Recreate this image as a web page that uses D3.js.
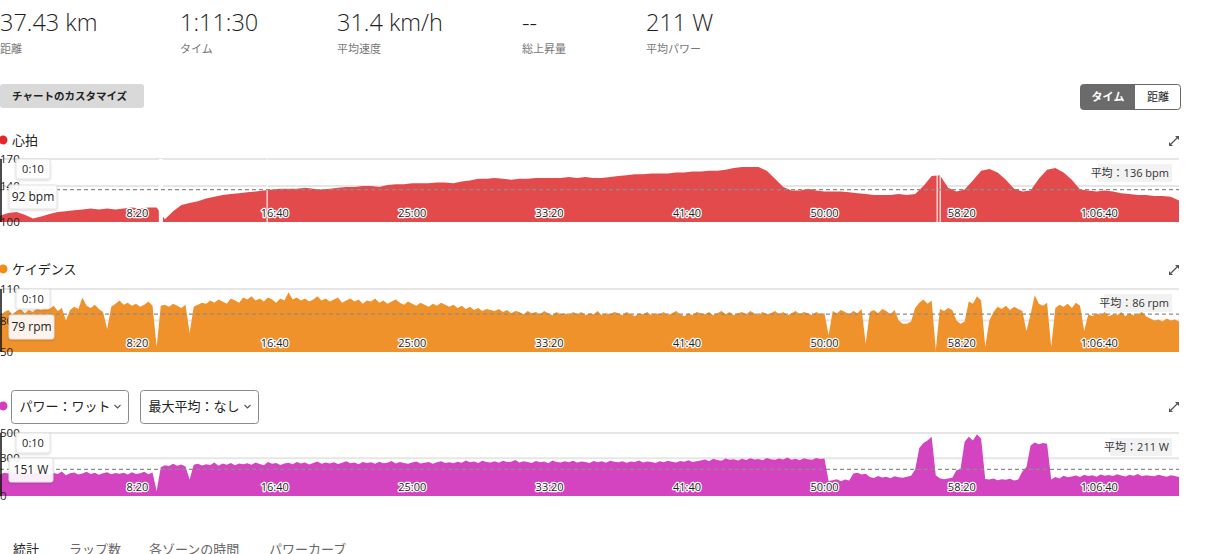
<!DOCTYPE html>
<html lang="ja">
<head>
<meta charset="utf-8">
<title>アクティビティ チャート</title>
<script src="https://d3js.org/d3.v7.min.js"></script>
<style>
  body { margin: 0; background: #fff; }
  svg { display: block; font-family: "Open Sans", "Noto Sans CJK JP", sans-serif; }
  .statval { font-size: 23.5px; font-weight: 300; fill: #1e1e1e; }
  .statlab { font-size: 11px; fill: #777; }
  .title { font-size: 13px; fill: #222; }
  .ylab { font-size: 11.5px; fill: #222; }
  .xlab { font-size: 11px; fill: #222; stroke: #fff; stroke-width: 2.5px; paint-order: stroke; stroke-linejoin: round; }
  .legend { font-size: 11px; fill: #333; }
  .tip { font-size: 11px; fill: #222; }
  .tipval { font-size: 12px; fill: #222; }
  .tab { font-size: 13px; fill: #666; }
</style>
</head>
<body>
<svg width="1207" height="554"></svg>
<script>
// summary stats
const statValues = ["37.43 km", "1:11:30", "31.4 km/h", "--", "211 W"];
const statLabels = ["距離", "タイム", "平均速度", "総上昇量", "平均パワー"];
const statX = [0, 180, 337, 522, 646];

const totalSec = 4290;                 // 1:11:30
const xTicks = [500, 1000, 1500, 2000, 2500, 3000, 3500, 4000];

// heart rate, one value every 30 s
const hrStep = 30;
const hrBpm = [
  107,110,111,108,104,106,109,111,112,113,
  114,115,114,115,114,115,116,115,116,116,
  103,112,119,121,123,126,128,130,131,132,
  133,134,135,136,137,137,137,138,137,136,
  137,138,139,139,140,140,139,141,142,142,
  143,143,143,144,144,143,145,146,148,148,
  149,148,147,148,148,149,149,149,149,150,
  149,150,149,149,150,151,152,153,153,154,
  154,154,155,155,156,156,157,157,158,160,
  161,161,161,157,148,139,135,135,137,135,
  134,134,134,133,132,131,130,130,130,131,
  130,131,140,151,152,138,134,136,146,157,
  159,155,147,137,134,135,148,158,160,155,
  147,136,135,134,135,134,132,131,130,130,
  129,129,128,124
];
// sensor dropouts [start s, end s]
const hrGaps = [[578, 593], [970, 974], [3408, 3412], [3419, 3423]];
const hrAvg = 136;

// cadence, one value every 15 s
const cadStep = 15;
const cadRpm = [
  84,88,90,86,89,91,87,90,88,92,
  90,93,91,94,89,92,80,90,93,91,
  102,94,92,95,91,88,72,93,96,99,
  95,97,94,96,93,95,98,94,55,94,
  95,93,96,94,92,95,68,93,95,97,
  96,99,97,100,98,96,101,99,97,102,
  100,103,99,101,98,102,100,97,101,99,
  107,100,102,99,101,98,100,103,99,101,
  98,100,102,97,99,101,98,100,96,99,
  98,101,97,99,96,98,100,97,95,98,
  96,94,97,95,93,96,94,97,95,93,
  95,92,94,91,93,90,92,89,91,90,
  89,91,88,90,87,89,88,86,89,87,
  88,86,89,87,85,88,86,87,85,88,
  86,88,85,87,86,89,85,87,86,88,
  87,85,88,86,84,87,86,88,85,87,
  86,88,85,87,89,86,84,87,85,88,
  87,86,88,85,87,89,86,88,85,87,
  88,86,89,87,85,88,86,87,89,86,
  88,85,87,89,86,88,87,85,88,86,
  87,66,89,87,90,88,86,89,87,91,
  58,88,90,87,91,89,86,90,80,77,
  77,79,92,97,100,96,99,52,91,89,
  92,90,80,77,79,98,96,103,99,55,
  80,88,93,91,94,90,93,91,89,70,
  86,104,96,94,97,55,92,95,93,96,
  92,97,94,70,86,84,87,85,88,84,
  86,85,88,84,87,85,86,88,84,82,
  80,81,79,82,80,81,79
];
const cadAvg = 86;

// power, one value every 15 s
const pwrStep = 15;
const pwrWatts = [
  170,185,178,192,180,175,188,172,183,179,
  176,190,168,182,174,195,165,180,186,171,
  178,192,174,185,169,181,188,173,182,176,
  184,170,189,175,181,193,172,186,40,228,
  245,238,256,241,250,235,130,248,255,242,
  252,246,265,240,258,249,262,244,257,251,
  260,248,266,253,245,270,255,262,247,258,
  264,252,270,258,266,250,261,273,256,265,
  258,268,254,263,275,259,266,252,270,261,
  267,255,272,260,264,278,257,269,262,255,
  266,273,258,264,270,256,268,275,261,267,
  259,271,264,282,268,274,262,279,270,266,
  275,263,280,269,272,285,266,276,270,262,
  278,268,273,260,281,270,265,276,268,279,
  266,274,270,262,277,268,275,263,280,271,
  267,276,264,273,269,281,266,274,270,262,
  275,268,280,271,265,277,272,284,269,276,
  282,290,276,295,285,279,298,287,292,281,
  296,285,300,289,293,284,302,291,287,297,
  290,305,288,296,284,299,292,287,301,294,
  298,120,125,132,118,130,124,178,185,170,
  176,150,142,158,147,153,140,156,149,145,
  152,160,210,380,420,440,470,165,140,132,
  138,145,205,215,430,470,440,490,455,135,
  130,138,125,132,128,136,124,130,195,230,
  400,425,410,420,415,130,150,138,160,148,
  155,162,150,168,158,164,152,170,160,166,
  158,172,162,155,168,160,174,157,165,161,
  156,168,160,152,164,158,150
];
const pwrAvg = 211;

const svg = d3.select("svg");
const plotW = 1179;
const x = d3.scaleLinear().domain([0, totalSec]).range([0, plotW]);

function fmtTime(s) {
  const h = Math.floor(s / 3600), m = Math.floor((s % 3600) / 60), sec = s % 60;
  const ss = String(sec).padStart(2, "0");
  return h > 0 ? h + ":" + String(m).padStart(2, "0") + ":" + ss : m + ":" + ss;
}

// top stats
statValues.forEach((v, i) => {
  svg.append("text").attr("class", "statval").attr("x", statX[i]).attr("y", 31).text(v);
  svg.append("text").attr("class", "statlab").attr("x", statX[i]).attr("y", 53).text(statLabels[i]);
});

// customise button
svg.append("rect").attr("x", 0).attr("y", 84).attr("width", 144).attr("height", 24)
   .attr("rx", 3).attr("fill", "#d9d9d9");
svg.append("text").attr("x", 12).attr("y", 100).attr("font-size", 10.5).attr("font-weight", "bold")
   .attr("fill", "#222").text("チャートのカスタマイズ");

// time / distance toggle
svg.append("rect").attr("x", 1080.5).attr("y", 84.5).attr("width", 100).attr("height", 25)
   .attr("rx", 3).attr("fill", "#fff").attr("stroke", "#666");
svg.append("path").attr("d", "M1083.5,84.5 H1135 V109.5 H1083.5 Q1080.5,109.5 1080.5,106.5 V87.5 Q1080.5,84.5 1083.5,84.5 Z")
   .attr("fill", "#6b6b6b");
svg.append("text").attr("x", 1108).attr("y", 101).attr("text-anchor", "middle").attr("font-size", 11)
   .attr("font-weight", "bold").attr("fill", "#fff").text("タイム");
svg.append("text").attr("x", 1158).attr("y", 101).attr("text-anchor", "middle").attr("font-size", 11)
   .attr("fill", "#222").text("距離");

const shadow = svg.append("defs").append("filter").attr("id", "sh")
   .attr("x", "-20%").attr("y", "-20%").attr("width", "140%").attr("height", "160%");
shadow.append("feDropShadow").attr("dx", 0).attr("dy", 1).attr("stdDeviation", 1.2)
   .attr("flood-color", "#000").attr("flood-opacity", 0.18);

function expandIcon(cy) {
  const g = svg.append("g").attr("transform", "translate(1174," + cy + ")").attr("fill", "#555").attr("stroke", "#555");
  g.append("line").attr("x1", -3).attr("y1", 3).attr("x2", 4).attr("y2", -4).attr("stroke-width", 1.2);
  g.append("path").attr("d", "M1,-5 L5,-5 L5,-1 Z").attr("stroke", "none");
  g.append("path").attr("d", "M-5,1 L-5,5 L-1,5 Z").attr("stroke", "none");
}

function drawChart(c) {
  const y = d3.scaleLinear().domain(c.domain).range([c.bottom, c.top]);
  const g = svg.append("g");

  // header
  if (c.title) {
    g.append("circle").attr("cx", 3).attr("cy", c.headY).attr("r", 4.5).attr("fill", c.dot);
    g.append("text").attr("class", "title").attr("x", 12).attr("y", c.headY + 5).text(c.title);
  }
  expandIcon(c.headY + 1);

  // gridlines
  g.selectAll(".grid").data(c.grid).join("line")
   .attr("x1", 0).attr("x2", plotW)
   .attr("y1", d => y(d)).attr("y2", d => y(d))
   .attr("stroke", "#e6e6e6").attr("stroke-width", 2);

  // area
  const pts = c.values.map((v, i) => ({ t: i * c.step, v: v }));
  const area = d3.area().x(d => x(d.t)).y0(c.bottom).y1(d => y(d.v));
  g.append("path").datum(pts).attr("d", area).attr("fill", c.color);

  (c.gaps || []).forEach(gp => {
    g.append("rect").attr("x", x(gp[0])).attr("width", Math.max(1, x(gp[1]) - x(gp[0])))
     .attr("y", c.top).attr("height", c.bottom - c.top).attr("fill", "#fff");
  });

  // average line
  g.append("line").attr("x1", 0).attr("x2", plotW)
   .attr("y1", y(c.avg)).attr("y2", y(c.avg))
   .attr("stroke", "#8c8c8c").attr("stroke-width", 1.2).attr("stroke-dasharray", "4,3");

  // y axis
  g.append("line").attr("x1", 1).attr("x2", 1).attr("y1", c.top).attr("y2", c.bottom)
   .attr("stroke", "#111").attr("stroke-width", 1.5);
  g.selectAll(".ylab").data(c.yTicks).join("text").attr("class", "ylab")
   .attr("x", 0).attr("y", d => y(d) + 4).text(d => d);

  // x tick labels inside plot
  g.selectAll(".xlab").data(xTicks).join("text").attr("class", "xlab")
   .attr("x", d => x(d)).attr("y", c.bottom - 5).attr("text-anchor", "middle").text(fmtTime);

  // average legend
  const lw = c.avgLabel.length * 6.2 + 12;
  g.append("rect").attr("x", 1172 - lw).attr("y", c.top + 5).attr("width", lw).attr("height", 18)
   .attr("fill", "#f2f2f2");
  g.append("text").attr("class", "legend").attr("x", 1169).attr("y", c.top + 18)
   .attr("text-anchor", "end").text(c.avgLabel);

  // hover tooltips at 0:10
  g.append("rect").attr("x", 16).attr("y", c.top).attr("width", 34).attr("height", 20).attr("rx", 2)
   .attr("fill", "#fff").attr("fill-opacity", 0.92).attr("stroke", "#e2e2e2").attr("filter", "url(#sh)");
  g.append("text").attr("class", "tip").attr("x", 33).attr("y", c.top + 14).attr("text-anchor", "middle").text(fmtTime(10));
  g.append("rect").attr("x", 9).attr("y", c.tipY).attr("width", c.tipW).attr("height", 24).attr("rx", 2)
   .attr("fill", "#fff").attr("fill-opacity", 0.9).attr("stroke", "#e2e2e2").attr("filter", "url(#sh)");
  g.append("text").attr("class", "tipval").attr("x", 9 + c.tipW / 2).attr("y", c.tipY + 16)
   .attr("text-anchor", "middle").text(c.tipText);
}

drawChart({
  title: "心拍", dot: "#e3262d", headY: 140, color: "#e34a4c",
  domain: [100, 170], top: 159, bottom: 222, grid: [170, 140], yTicks: [170, 140, 100],
  values: hrBpm, step: hrStep, gaps: hrGaps, avg: hrAvg, avgLabel: "平均：" + hrAvg + " bpm",
  tipY: 185, tipW: 48, tipText: "92 bpm"
});

drawChart({
  title: "ケイデンス", dot: "#f08c17", headY: 269, color: "#f0922b",
  domain: [50, 110], top: 289, bottom: 352, grid: [110, 80], yTicks: [110, 80, 50],
  values: cadRpm, step: cadStep, avg: cadAvg, avgLabel: "平均：" + cadAvg + " rpm",
  tipY: 315, tipW: 45, tipText: "79 rpm"
});

drawChart({
  title: null, dot: "#d63cc0", headY: 406, color: "#d444c0",
  domain: [0, 500], top: 433, bottom: 496, grid: [500, 300], yTicks: [500, 300, 0],
  values: pwrWatts, step: pwrStep, avg: pwrAvg, avgLabel: "平均：" + pwrAvg + " W",
  tipY: 458, tipW: 44, tipText: "151 W"
});

// power header with dropdowns
svg.append("circle").attr("cx", 3).attr("cy", 406).attr("r", 4.5).attr("fill", "#d63cc0");
const dropdowns = [["パワー：ワット", 11.5, 117], ["最大平均：なし", 140.5, 118]];
dropdowns.forEach(dd => {
  svg.append("rect").attr("x", dd[1]).attr("y", 390.5).attr("width", dd[2]).attr("height", 33)
     .attr("rx", 3).attr("fill", "#fff").attr("stroke", "#8a8a8a");
  svg.append("text").attr("x", dd[1] + 8).attr("y", 411).attr("font-size", 13).attr("fill", "#222").text(dd[0]);
  const cx = dd[1] + dd[2] - 11;
  svg.append("path").attr("d", "M" + (cx - 3) + ",405 L" + cx + ",408 L" + (cx + 3) + ",405")
     .attr("fill", "none").attr("stroke", "#555").attr("stroke-width", 1.1);
});

// bottom tabs
const tabs = ["統計", "ラップ数", "各ゾーンの時間", "パワーカーブ"];
const tabX = [13, 69, 149, 269];
tabs.forEach((t, i) => {
  svg.append("text").attr("class", "tab").attr("x", tabX[i]).attr("y", 554)
     .style("fill", i === 0 ? "#222" : "#666").text(t);
});
</script>
</body>
</html>
